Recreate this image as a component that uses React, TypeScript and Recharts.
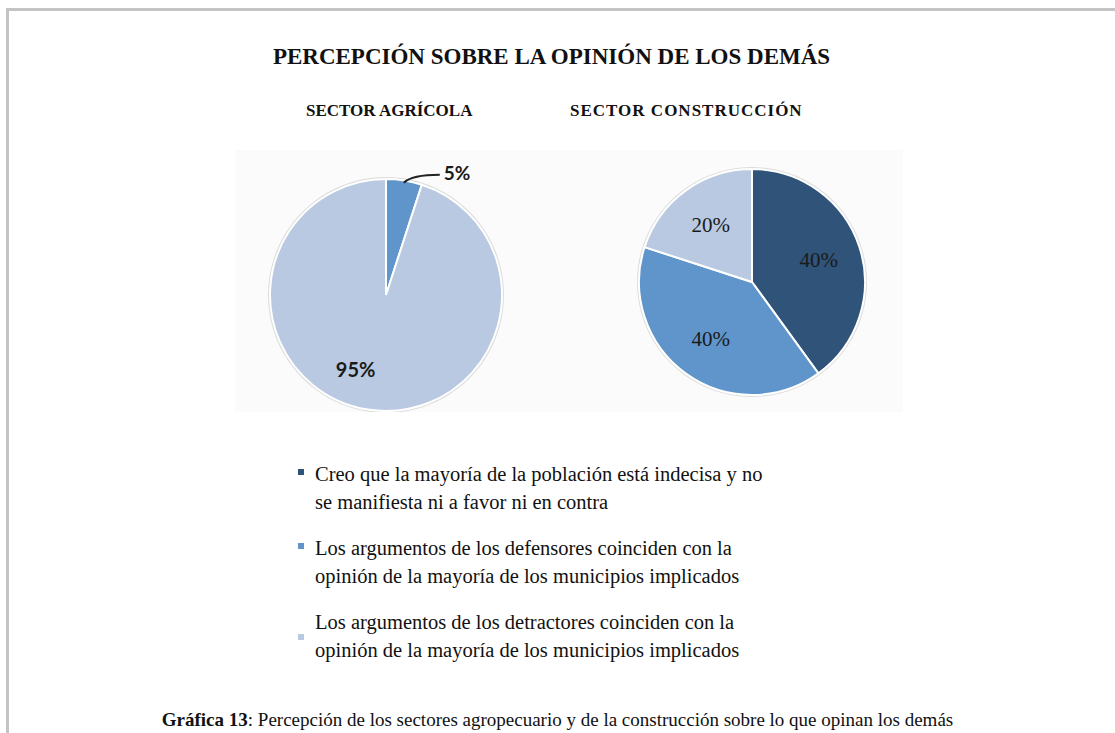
import React from 'react';
import { PieChart, Pie, Cell } from 'recharts';

const categories = [
  'Creo que la mayoría de la población está indecisa y no\nse manifiesta ni a favor ni en contra',
  'Los argumentos de los defensores coinciden con la\nopinión de la mayoría de los municipios implicados',
  'Los argumentos de los detractores coinciden con la\nopinión de la mayoría de los municipios implicados',
];
const agricolaValues = [0, 5, 95];
const construccionValues = [40, 40, 20];
const sectorTitles = ['SECTOR AGRÍCOLA', 'SECTOR CONSTRUCCIÓN'];
const colors = ['#2f5379', '#5f95cb', '#b8c9e1'];

const RAD = Math.PI / 180;

const toData = (values: number[]) =>
  values
    .map((v, i) => ({ name: categories[i], value: v, color: colors[i] }))
    .filter(d => d.value > 0);

const agricolaData = toData(agricolaValues);
const construccionData = toData(construccionValues);

// left pie: big slice label inside, small slice outside with a leader line
const agricolaLabel = (p: any) => {
  const { cx, cy, midAngle, outerRadius, value } = p;
  const cos = Math.cos(-midAngle * RAD);
  const sin = Math.sin(-midAngle * RAD);
  if (value < 10) {
    const sx = cx + outerRadius * 0.98 * cos;
    const sy = cy + outerRadius * 0.98 * sin;
    const ex = sx + 36;
    const ey = sy - 8;
    return (
      <g>
        <path d={`M${sx},${sy} Q${sx + 8},${ey} ${ex},${ey}`} stroke="#222" strokeWidth={2} fill="none" />
        <text x={ex + 4} y={ey} dy={5} fill="#1a1a1a" fontSize={19} fontFamily="Lato" fontWeight={700}>
          {`${value}%`}
        </text>
      </g>
    );
  }
  const r = outerRadius * 0.68;
  return (
    <text x={cx + r * cos - 18} y={cy + r * sin - 4} textAnchor="middle" dominantBaseline="central"
      fill="#1a1a1a" fontSize={20} fontFamily="Lato" fontWeight={700}>
      {`${value}%`}
    </text>
  );
};

const construccionLabel = (p: any) => {
  const { cx, cy, midAngle, outerRadius, value } = p;
  const r = outerRadius * 0.62;
  return (
    <text x={cx + r * Math.cos(-midAngle * RAD)} y={cy + r * Math.sin(-midAngle * RAD)}
      textAnchor="middle" dominantBaseline="central" fill="#1a1a1a" fontSize={21} fontFamily="Liberation Serif">
      {`${value}%`}
    </text>
  );
};

export default function App() {
  return (
    <div style={{ position: 'absolute', left: 0, top: 0, width: 1115, height: 733, overflow: 'hidden', background: '#fff', fontFamily: 'Liberation Serif', color: '#111' }}>
      {/* frame */}
      <div style={{ position: 'absolute', left: 6, top: 8, right: 0, bottom: 0, borderTop: '3px solid #c4c4c4', borderLeft: '3px solid #c4c4c4' }} />

      <div style={{ position: 'absolute', left: 0, width: 1103, top: 44, textAlign: 'center', fontWeight: 'bold', fontSize: 23 }}>
        PERCEPCIÓN SOBRE LA OPINIÓN DE LOS DEMÁS
      </div>
      <div style={{ position: 'absolute', left: 306, top: 101, fontWeight: 'bold', fontSize: 17 }}>{sectorTitles[0]}</div>
      <div style={{ position: 'absolute', left: 570, top: 101, fontWeight: 'bold', fontSize: 17, letterSpacing: 1 }}>{sectorTitles[1]}</div>

      {/* pies */}
      <div style={{ position: 'absolute', left: 235, top: 150, width: 668, height: 262, background: '#fbfbfb' }}>
        <PieChart width={668} height={262}>
          <Pie data={[{ value: 100 }]} dataKey="value" cx={146} cy={140} outerRadius={118} fill="#dcdcdc" stroke="none" isAnimationActive={false} />
          <Pie data={agricolaData} dataKey="value" cx={146} cy={140} outerRadius={116} startAngle={90} endAngle={-270}
            stroke="#fff" strokeWidth={2} label={agricolaLabel} labelLine={false} isAnimationActive={false}>
            {agricolaData.map(d => <Cell key={d.name} fill={d.color} />)}
          </Pie>
          <Pie data={[{ value: 100 }]} dataKey="value" cx={512} cy={127} outerRadius={115} fill="#dcdcdc" stroke="none" isAnimationActive={false} />
          <Pie data={construccionData} dataKey="value" cx={512} cy={127} outerRadius={113} startAngle={90} endAngle={-270}
            stroke="#fff" strokeWidth={2} label={construccionLabel} labelLine={false} isAnimationActive={false}>
            {construccionData.map(d => <Cell key={d.name} fill={d.color} />)}
          </Pie>
        </PieChart>
      </div>

      {/* legend */}
      <div style={{ position: 'absolute', left: 298, top: 460, fontSize: 20.5 }}>
        {categories.map((c, i) => (
          <div key={i} style={{ position: 'relative', paddingLeft: 17, marginBottom: 18, lineHeight: '28px', whiteSpace: 'pre-line' }}>
            <span style={{ position: 'absolute', left: 0, top: i === 2 ? 26 : 9, width: 6, height: 6, background: colors[i] }} />
            {c}
          </div>
        ))}
      </div>

      <div style={{ position: 'absolute', left: 0, width: 1115, top: 709, lineHeight: '22px', textAlign: 'center', fontSize: 19 }}>
        <b>Gráfica 13</b>: Percepción de los sectores agropecuario y de la construcción sobre lo que opinan los demás
      </div>
    </div>
  );
}
